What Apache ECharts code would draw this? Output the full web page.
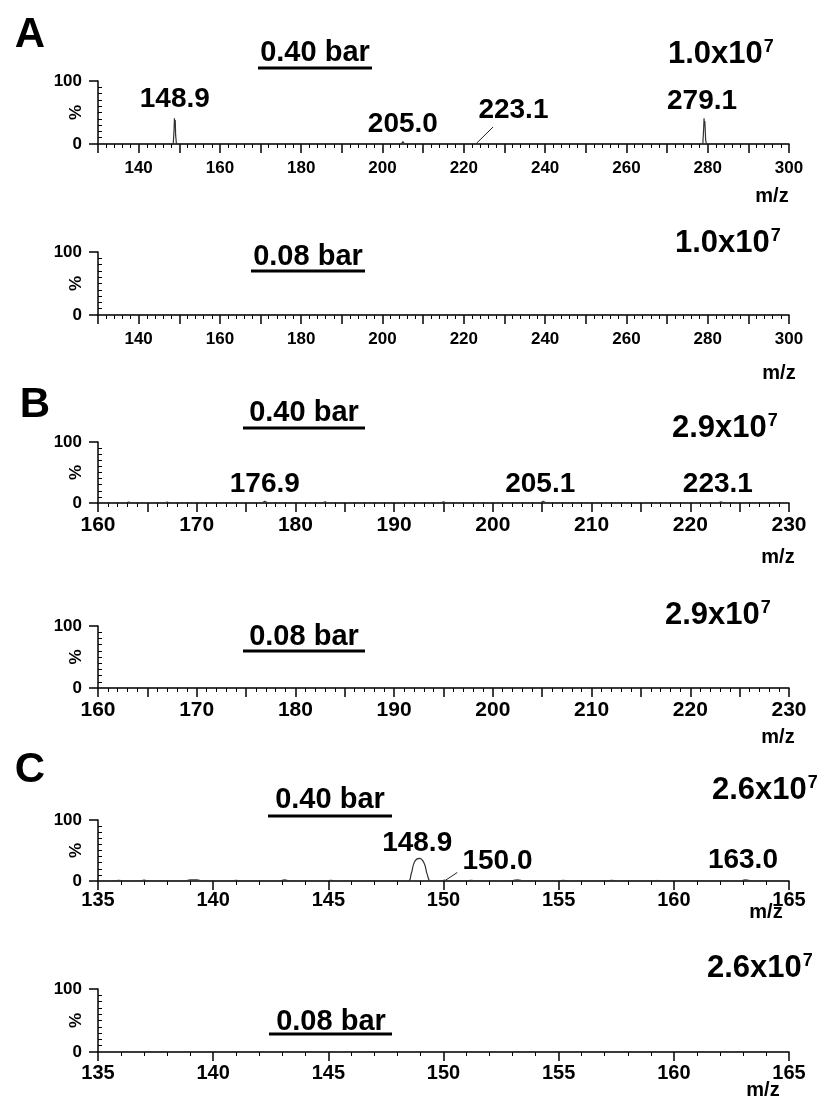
<!DOCTYPE html>
<html>
<head>
<meta charset="utf-8">
<script src="https://cdn.jsdelivr.net/npm/echarts@6/dist/echarts.min.js"></script>
<style>html,body{margin:0;padding:0;background:#fff}#main{width:833px;height:1099px}</style>
</head>
<body>
<div id="main"></div>
<script>
var FONT = '"Liberation Sans", Arial, sans-serif';

// axis ranges: min, max, tick step, label step
var axisA = [130, 300, 10, 20];
var axisB = [160, 230, 5, 10];
var axisC = [135, 165, 5, 5];

// spectra [m/z, %]
var specA1 = [
  [130,0],[130.9,0.8],[131.3,0],[133.5,0],[133.8,0.8],[134.1,0],[135.6,0],[135.9,1],[136.2,0],
  [137.3,0],[137.6,1.2],[137.9,0],[138.4,0],[138.7,2.5],[139.0,0],[140.6,0],[140.9,1.2],[141.2,0],
  [142.5,0],[142.8,1.5],[143.1,0],[145.7,0],[146.0,1],[146.3,0],
  [148.5,0],[148.7,20],[148.8,41],[148.9,28],[149.0,38],[149.1,14],[149.3,0],[149.5,2],[149.8,0],
  [150.8,0],[151.1,1.2],[151.4,0],[152.3,0],[152.6,1.2],[152.9,0],[153.9,0],[154.2,1],[154.5,0],
  [155.5,0],[155.8,1],[156.1,0],[157.4,0],[157.7,0.8],[158,0],
  [162.6,0],[162.9,2],[163.2,0],[166.7,0],[167,1.5],[167.3,0],[170.3,0],[170.6,1.2],[170.9,0],
  [176.9,0],[177.2,2],[177.5,0],[182.3,0],[182.6,1.5],[182.9,0],[184.3,0],[184.6,1],[184.9,0],
  [194.6,0],[194.9,1],[195.2,0],[198.6,0],[198.9,1.2],[199.2,0],
  [204.6,0],[205.0,4],[205.4,0],[209.7,0],[210,1],[210.3,0],
  [222.8,0],[223.1,1],[223.4,0],[234.7,0],[235,2],[235.3,0],
  [278.8,0],[279.0,24],[279.1,41],[279.2,30],[279.3,36],[279.5,6],[279.7,0],[280.0,3],[280.3,0],
  [300,0]
];
var specA2 = [[130,0],[300,0]];
var specB1 = [
  [160,0],[162.8,0],[163.1,1.5],[163.4,0],[166.7,0],[167.0,1.5],[167.3,0],[168.8,0],[169.0,0.7],[169.2,0],
  [170.8,0],[171,0.7],[171.2,0],[176.6,0],[176.9,3],[177.2,0],[182.7,0],[183.0,2],[183.3,0],
  [194.7,0],[195.0,2],[195.3,0],[204.8,0],[205.1,3],[205.4,0],[222.8,0],[223.1,2],[223.4,0],[230,0]
];
var specB2 = [[160,0],[230,0]];
var specC1 = [
  [135,0],[135.7,0],[135.9,1],[136.1,0],[136.8,0],[137,1.5],[137.2,0],[138.8,0],[139,2],[139.3,2],[139.5,0],
  [140.8,0],[141,1],[141.2,0],[142.9,0],[143.1,2],[143.3,0],[144.9,0],[145.1,1],[145.3,0],
  [148.45,0],[148.6,12],[148.75,32],[148.95,37],[149.15,30],[149.3,10],[149.45,0],
  [149.9,0],[150.05,1.5],[150.2,0],[151.0,0],[151.2,1],[151.4,0],[152.9,0],[153.2,2],[153.5,0],
  [155,0],[155.2,1],[155.4,0],[157.1,0],[157.3,1],[157.5,0],[159.2,0],[159.3,1],[159.4,0],
  [162.9,0],[163.1,2],[163.4,0],[165,0]
];
var specC2 = [[135,0],[165,0]];

// labelled peaks
var peakMzA1 = [148.9, 205.0, 223.1, 279.1];
var peakIntA1 = [41, 4, 1, 41];
var peakMzB1 = [176.9, 205.1, 223.1];
var peakIntB1 = [3, 3, 2];
var peakMzC1 = [148.9, 150.0, 163.0];
var peakIntC1 = [37, 1.5, 2];

// leader lines for offset labels
var leaderA1 = [[223.1, 1], [227.2, 27]];
var leaderC1 = [[150.1, 1.5], [150.6, 14]];

var panelLetters = ['A', 'B', 'C'];
var pressures = ['0.40 bar', '0.08 bar'];
var scaleMantissa = ['1.0x10', '2.9x10', '2.6x10'];
var scaleExp = '7';

var panels = [
  {top:81, h:63, axis:axisA, spec:specA1, mz:peakMzA1, it:peakIntA1, off:[[0,-5],[0,-3],[37,-19],[-2,-3]], leader:leaderA1, font:17, margin:16},
  {top:252, h:63, axis:axisA, spec:specA2, font:17, margin:16},
  {top:442, h:61, axis:axisB, spec:specB1, mz:peakMzB1, it:peakIntB1, off:[[0,-3],[-3,-3],[-3,-3]], font:21, margin:12},
  {top:626, h:62, axis:axisB, spec:specB2, font:21, margin:12},
  {top:820, h:61, axis:axisC, spec:specC1, mz:peakMzC1, it:peakIntC1, off:[[-1,-1],[54,-5],[0,-5]], leader:leaderC1, font:20, margin:9, smooth:true},
  {top:989, h:63, axis:axisC, spec:specC2, font:20, margin:11}
];

var grids = [], xAxes = [], yAxes = [], series = [];
panels.forEach(function (p, i) {
  grids.push({left:98, width:691, top:p.top, height:p.h});
  var step = p.axis[3];
  xAxes.push({
    gridIndex:i, type:'value', min:p.axis[0], max:p.axis[1], interval:p.axis[2],
    axisLine:{onZero:false, lineStyle:{color:'#000', width:1.5}},
    axisTick:{length:9, lineStyle:{color:'#000', width:1.5}},
    minorTick:{show:true, splitNumber:5, length:4, lineStyle:{color:'#000', width:1}},
    splitLine:{show:false},
    axisLabel:{color:'#000', fontWeight:'bold', fontFamily:FONT, fontSize:p.font, margin:p.margin,
      formatter:function (v) { return v % step === 0 ? String(v) : ''; }}
  });
  yAxes.push({
    gridIndex:i, type:'value', position:'left', min:0, max:100, interval:100,
    name:'%', nameLocation:'middle', nameGap:13, nameRotate:90, nameMoveOverlap:false,
    nameTextStyle:{color:'#000', fontWeight:'bold', fontFamily:FONT, fontSize:17},
    axisLine:{show:true, lineStyle:{color:'#000', width:1.5}},
    axisTick:{show:true, length:9, lineStyle:{color:'#000', width:1.5}},
    splitLine:{show:false},
    axisLabel:{color:'#000', fontWeight:'bold', fontFamily:FONT, fontSize:17, margin:16}
  });
  yAxes.push({
    gridIndex:i, type:'value', position:'left', offset:0, min:0, max:100, interval:100,
    axisLine:{show:false}, axisTick:{show:false, inside:true}, axisLabel:{show:false}, splitLine:{show:false},
    minorTick:{show:true, splitNumber:10, length:4, lineStyle:{color:'#000', width:1}}
  });
  series.push({
    type:'line', xAxisIndex:i, yAxisIndex:2 * i, data:p.spec, showSymbol:false, smooth:!!p.smooth,
    lineStyle:{color:'#333', width:1.2}, animation:false, z:3
  });
  if (p.mz) {
    var items = p.mz.map(function (m, k) {
      return {value:[m, p.it[k]], label:{offset:p.off[k], formatter:m.toFixed(1)}};
    });
    series.push({
      type:'scatter', xAxisIndex:i, yAxisIndex:2 * i, data:items, symbolSize:0,
      itemStyle:{color:'#000', opacity:1}, animation:false, silent:true,
      label:{show:true, position:'top', distance:0, color:'#000', opacity:1, fontWeight:'bold', fontFamily:FONT, fontSize:28}
    });
  }
  if (p.leader) {
    series.push({
      type:'line', xAxisIndex:i, yAxisIndex:2 * i, data:p.leader, showSymbol:false,
      lineStyle:{color:'#222', width:1}, animation:false
    });
  }
});

function txt(x, y, s, size, align) {
  return {type:'text', x:x, y:y, style:{text:s, fill:'#000', fontWeight:'bold', fontFamily:FONT, fontSize:size,
    align:align || 'center', verticalAlign:'middle'}};
}
function scaleTxt(x, y, m) {
  return {type:'text', x:x, y:y, style:{text:'{b|' + m + '}{s|' + scaleExp + '}', align:'left', verticalAlign:'middle',
    rich:{b:{fill:'#000', fontWeight:'bold', fontFamily:FONT, fontSize:31},
          s:{fill:'#000', fontWeight:'bold', fontFamily:FONT, fontSize:18, verticalAlign:'top', padding:[0,0,12,1]}}}};
}
function uline(x1, x2, y) {
  return {type:'line', shape:{x1:x1, y1:y, x2:x2, y2:y}, style:{stroke:'#000', lineWidth:3}};
}

var graphics = [
  txt(30, 35, panelLetters[0], 42), txt(35, 405, panelLetters[1], 42), txt(30, 770, panelLetters[2], 42),
  txt(315, 53, pressures[0], 29), uline(258, 372, 68),
  txt(308, 257, pressures[1], 29), uline(251, 365, 271),
  txt(304, 413, pressures[0], 29), uline(243, 365, 428),
  txt(304, 637, pressures[1], 29), uline(243, 365, 651),
  txt(330, 800, pressures[0], 29), uline(268, 392, 816),
  txt(331, 1022, pressures[1], 29), uline(269, 392, 1034),
  scaleTxt(668, 54, scaleMantissa[0]), scaleTxt(675, 243, scaleMantissa[0]),
  scaleTxt(672, 428, scaleMantissa[1]), scaleTxt(665, 615, scaleMantissa[1]),
  scaleTxt(712, 790, scaleMantissa[2]), scaleTxt(707, 968, scaleMantissa[2]),
  txt(772, 196, 'm/z', 20), txt(779, 373, 'm/z', 20), txt(778, 557, 'm/z', 20),
  txt(778, 737, 'm/z', 20), txt(766, 912, 'm/z', 20), txt(763, 1090, 'm/z', 20)
];

var myChart = echarts.init(document.getElementById('main'));
myChart.setOption({
  animation:false,
  backgroundColor:'#fff',
  grid:grids, xAxis:xAxes, yAxis:yAxes, series:series,
  graphic:graphics
});
</script>
</body>
</html>
